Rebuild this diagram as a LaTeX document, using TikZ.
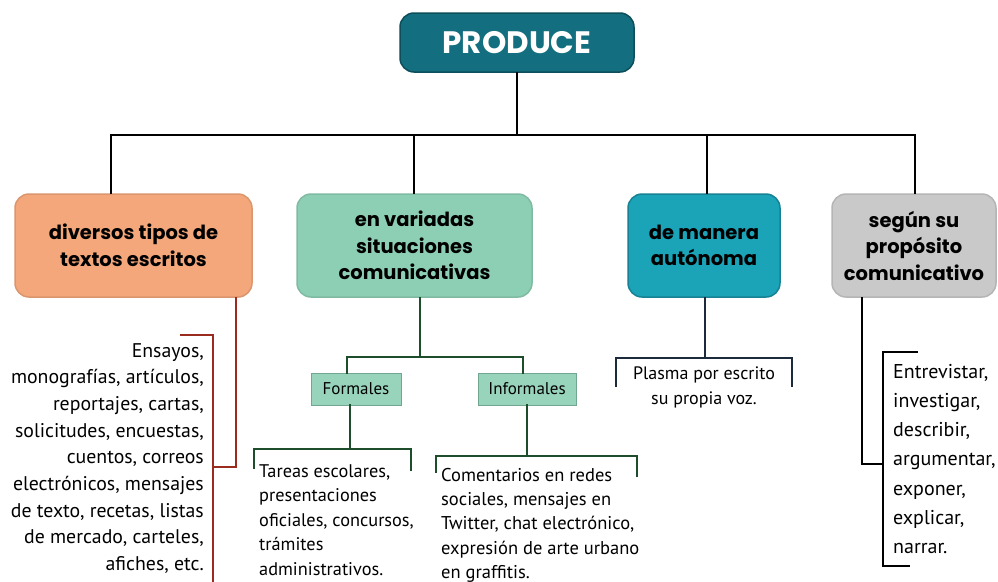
\documentclass[tikz,border=0pt]{standalone}
\usepackage{fontspec}
\setmainfont{PT Sans}
\newfontfamily\headfont{Poppins}
\usetikzlibrary{positioning}

\definecolor{prodblue}{HTML}{136F80}
\definecolor{orangebox}{HTML}{F3A77A}
\definecolor{greenbox}{HTML}{8DCFB5}
\definecolor{tealbox}{HTML}{1BA3B8}
\definecolor{graybox}{HTML}{C9C9C9}
\definecolor{redline}{HTML}{9A2B1F}
\definecolor{greenline}{HTML}{1E4D2B}
\definecolor{navyline}{HTML}{1B2B3B}

\tikzset{catbox/.style={rounded corners=14pt, minimum height=103pt, align=center,
           inner sep=0pt, line width=1.5pt, font=\headfont\bfseries\fontsize{19.5}{26.5}\selectfont},
         subbox/.style={fill=greenbox!90!white, draw=greenbox!80!black, line width=0.6pt,
           minimum height=32pt, inner sep=0pt, font=\fontsize{17}{18}\selectfont},
         link/.style={line width=2pt, line cap=rect},
         listtext/.style={inner sep=0pt}}

\begin{document}
\begin{tikzpicture}[x=1pt,y=-1pt]
\clip (0,0) rectangle (998,581);
\fill[white] (0,0) rectangle (998,581);

\node[catbox, fill=prodblue, draw=prodblue!70!black, minimum width=234pt, minimum height=59pt,
      text=white, font=\headfont\bfseries\fontsize{31}{33}\selectfont] (produce) at (517,42.5) {PRODUCE};

\node[catbox, fill=orangebox, draw=orangebox!90!black, minimum width=237pt] (tipos) at (133.5,245.5)
     {diversos tipos de\\textos escritos};
\node[catbox, fill=greenbox, draw=greenbox!90!black, minimum width=235pt] (situ) at (414.5,245.5)
     {en variadas\\situaciones\\comunicativas};
\node[catbox, fill=tealbox, draw=tealbox!80!black, minimum width=152pt] (manera) at (704,245.5)
     {de manera\\autónoma};
\node[catbox, fill=graybox, draw=graybox!90!black, minimum width=164pt] (proposito) at (914,245.5)
     {según su\\propósito\\comunicativo};

\node[subbox, minimum width=90pt] (formales) at (356,389) {Formales};
\node[subbox, minimum width=98pt] (informales) at (527,389) {Informales};

% texts
\node[listtext, anchor=north east, align=right, font=\fontsize{19.8}{26.7}\selectfont] (ejemplos) at (204,343)
     {Ensayos,\\monografías, artículos,\\reportajes, cartas,\\solicitudes, encuestas,\\cuentos, correos\\electrónicos, mensajes\\de texto, recetas, listas\\de mercado, carteles,\\afiches, etc.};
\node[listtext, anchor=north west, align=left, font=\fontsize{18.3}{24.5}\selectfont] (tareas) at (259,464)
     {Tareas escolares,\\presentaciones\\oficiales, concursos,\\trámites\\administrativos.};
\node[listtext, anchor=north west, align=left, font=\fontsize{18.5}{24.3}\selectfont] (comentarios) at (441,468)
     {Comentarios en redes\\sociales, mensajes en\\Twitter, chat electrónico,\\expresión de arte urbano\\en graffitis.};
\node[listtext, anchor=north, align=center, font=\fontsize{18}{25}\selectfont] (plasma) at (704,367)
     {Plasma por escrito\\su propia voz.};
\node[listtext, anchor=north west, align=left, font=\fontsize{20}{29.2}\selectfont] (verbos) at (893,364)
     {Entrevistar,\\investigar,\\describir,\\argumentar,\\exponer,\\explicar,\\narrar.};

% top level tree
\coordinate (hub) at (517,135);
\draw[link] (produce.south) -- (hub);
\draw[link] (111,135) -- (915,135);
\foreach \x/\b in {111/tipos,414/situ,707/manera,915/proposito}
  \draw[link] (\x,135) -- (\x,0 |- \b.north);

% diversos tipos
\coordinate (rtop) at (181,335);
\draw[link, redline] (236,0 |- tipos.south) -- (236,467) -- (213,467);
\draw[link, redline] (rtop) -- (213,335) -- (213,590);

% variadas situaciones
\draw[link, greenline] (situ.south -| 420,0) -- (420,357);
\draw[link, greenline] (347,0 |- formales.north) -- (347,357) -- (523,357) -- (523,0 |- informales.north);
\draw[link, greenline] (formales.south -| 350,0) -- (350,449);
\draw[link, greenline] (254,468) -- (254,449) -- (411,449) -- (411,470);
\draw[link, greenline] (informales.south) -- (527,456);
\draw[link, greenline] (436,472) -- (436,456) -- (637,456) -- (637,476);

% de manera
\draw[link, navyline] (manera.south -| 705,0) -- (705,358);
\draw[link, navyline] (616,386) -- (616,358) -- (792,358) -- (792,386);

% proposito
\draw[link] (862,0 |- proposito.south) -- (862,464) -- (883,464);
\draw[link] (917,352) -- (883,352) -- (883,566) -- (909,566);
\end{tikzpicture}
\end{document}
